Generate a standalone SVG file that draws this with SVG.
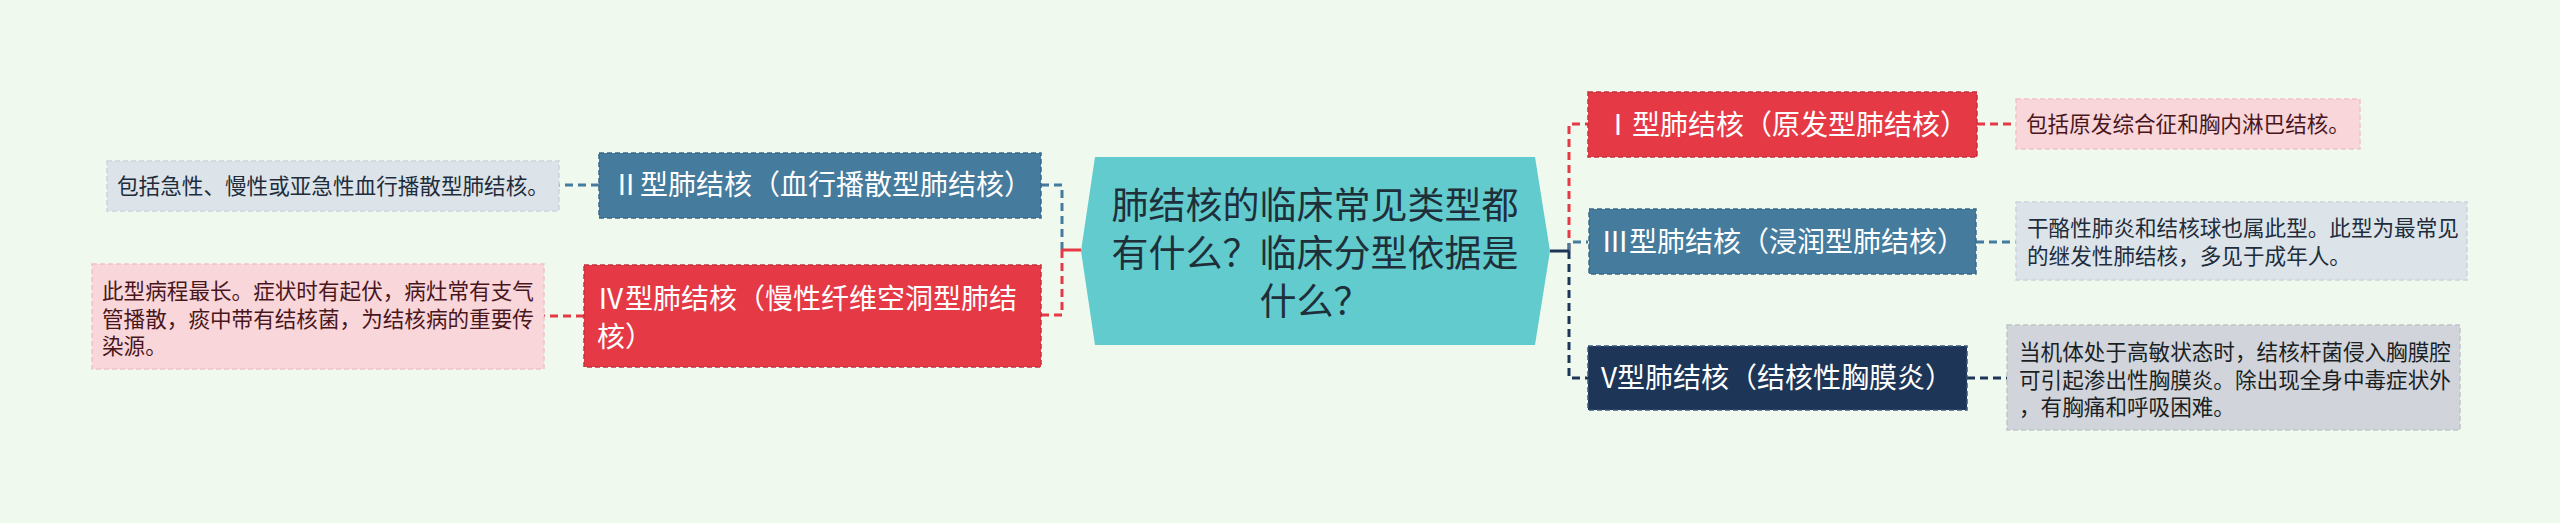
<svg xmlns="http://www.w3.org/2000/svg" width="2560" height="523" viewBox="0 0 2560 523">
<style>
text{font-family:"Noto Sans CJK SC","Liberation Sans",sans-serif;}
.nt{font-size:28px;fill:#ffffff;}
.lt{font-size:21.6px;}
.ct{font-size:37px;fill:#1f2f3a;text-anchor:middle;}
.red{fill:#e63946;stroke:#c8303e;stroke-width:1.5;stroke-dasharray:5,3;}
.blue{fill:#457b9d;stroke:#386a89;stroke-width:1.5;stroke-dasharray:5,3;}
.navy{fill:#1d3557;stroke:#3a557a;stroke-width:1.5;stroke-dasharray:5,3;}
.pink{fill:#f9d6da;stroke:#f0c2c8;stroke-width:1.5;stroke-dasharray:5,3;}
.pale{fill:#dce4ea;stroke:#cad5de;stroke-width:1.5;stroke-dasharray:5,3;}
.gray{fill:#d1d5db;stroke:#c0c5cc;stroke-width:1.5;stroke-dasharray:5,3;}
.c{fill:none;stroke-width:3;}
.d{stroke-dasharray:8,5;}
.cr{stroke:#e63946;}
.cb{stroke:#457b9d;}
.cn{stroke:#1d3557;}
.tp{fill:#4a161c;}
.tb{fill:#1e2c3b;}
.tg{fill:#1b1f24;}
</style>
<rect x="0" y="0" width="2560" height="523" fill="#f0f9ee"/>
<g id="connectors">
<path class="c cb d" d="M1062,250 V185 H1041"/>
<path class="c cr d" d="M1062,250 V315 H1041"/>
<path class="c cr" d="M1081,250 H1062"/>
<path class="c cb d" d="M599,185 H559"/>
<path class="c cr d" d="M584,316 H544"/>
<path class="c cr d" d="M1569,251 V124 H1588"/>
<path class="c cb d" d="M1569,251 V242 H1588"/>
<path class="c cn d" d="M1569,251 V378 H1588"/>
<path class="c cn" d="M1550,251 H1569"/>
<path class="c cr d" d="M1977,124 H2016"/>
<path class="c cb d" d="M1976,242 H2016"/>
<path class="c cn d" d="M1967,378 H2007"/>
</g>
<g id="center">
<polygon points="1095,157 1535,157 1550,251 1535,345 1095,345 1081,251" fill="#62cbce"/>
<text class="ct" x="1315" y="219">肺结核的临床常见类型都</text>
<text class="ct" x="1315" y="267">有什么？临床分型依据是</text>
<text class="ct" x="1315" y="315">什么？</text>
</g>
<g id="n1">
<rect class="red" x="1588" y="92" width="389" height="65"/>
<text class="nt" x="1604" y="135">Ⅰ型肺结核（原发型肺结核）</text>
</g>
<g id="n1leaf">
<rect class="pink" x="2016" y="99" width="344" height="50"/>
<text class="lt tp" x="2026" y="132">包括原发综合征和胸内淋巴结核。</text>
</g>
<g id="n2">
<rect class="blue" x="599" y="153" width="442" height="65"/>
<text class="nt" x="612" y="195">Ⅱ型肺结核（血行播散型肺结核）</text>
</g>
<g id="n2leaf">
<rect class="pale" x="107" y="161" width="452" height="50"/>
<text class="lt tb" x="117" y="194">包括急性、慢性或亚急性血行播散型肺结核。</text>
</g>
<g id="n3">
<rect class="blue" x="1589" y="209" width="387" height="65"/>
<text class="nt" x="1601" y="252">Ⅲ型肺结核（浸润型肺结核）</text>
</g>
<g id="n3leaf">
<rect class="pale" x="2016" y="202" width="451" height="78"/>
<text class="lt tb" x="2027" y="236">干酪性肺炎和结核球也属此型。此型为最常见</text>
<text class="lt tb" x="2027" y="264">的继发性肺结核，多见于成年人。</text>
</g>
<g id="n4">
<rect class="red" x="584" y="265" width="457" height="102"/>
<text class="nt" x="597" y="309">Ⅳ型肺结核（慢性纤维空洞型肺结</text>
<text class="nt" x="597" y="347">核）</text>
</g>
<g id="n4leaf">
<rect class="pink" x="92" y="264" width="452" height="105"/>
<text class="lt tp" x="102" y="299">此型病程最长。症状时有起伏，病灶常有支气</text>
<text class="lt tp" x="102" y="327">管播散，痰中带有结核菌，为结核病的重要传</text>
<text class="lt tp" x="102" y="354">染源。</text>
</g>
<g id="n5">
<rect class="navy" x="1588" y="346" width="379" height="64"/>
<text class="nt" x="1601" y="388">V型肺结核（结核性胸膜炎）</text>
</g>
<g id="n5leaf">
<rect class="gray" x="2007" y="325" width="453" height="105"/>
<text class="lt tg" x="2019" y="360">当机体处于高敏状态时，结核杆菌侵入胸膜腔</text>
<text class="lt tg" x="2019" y="388">可引起渗出性胸膜炎。除出现全身中毒症状外</text>
<text class="lt tg" x="2019" y="415">，有胸痛和呼吸困难。</text>
</g>
</svg>
